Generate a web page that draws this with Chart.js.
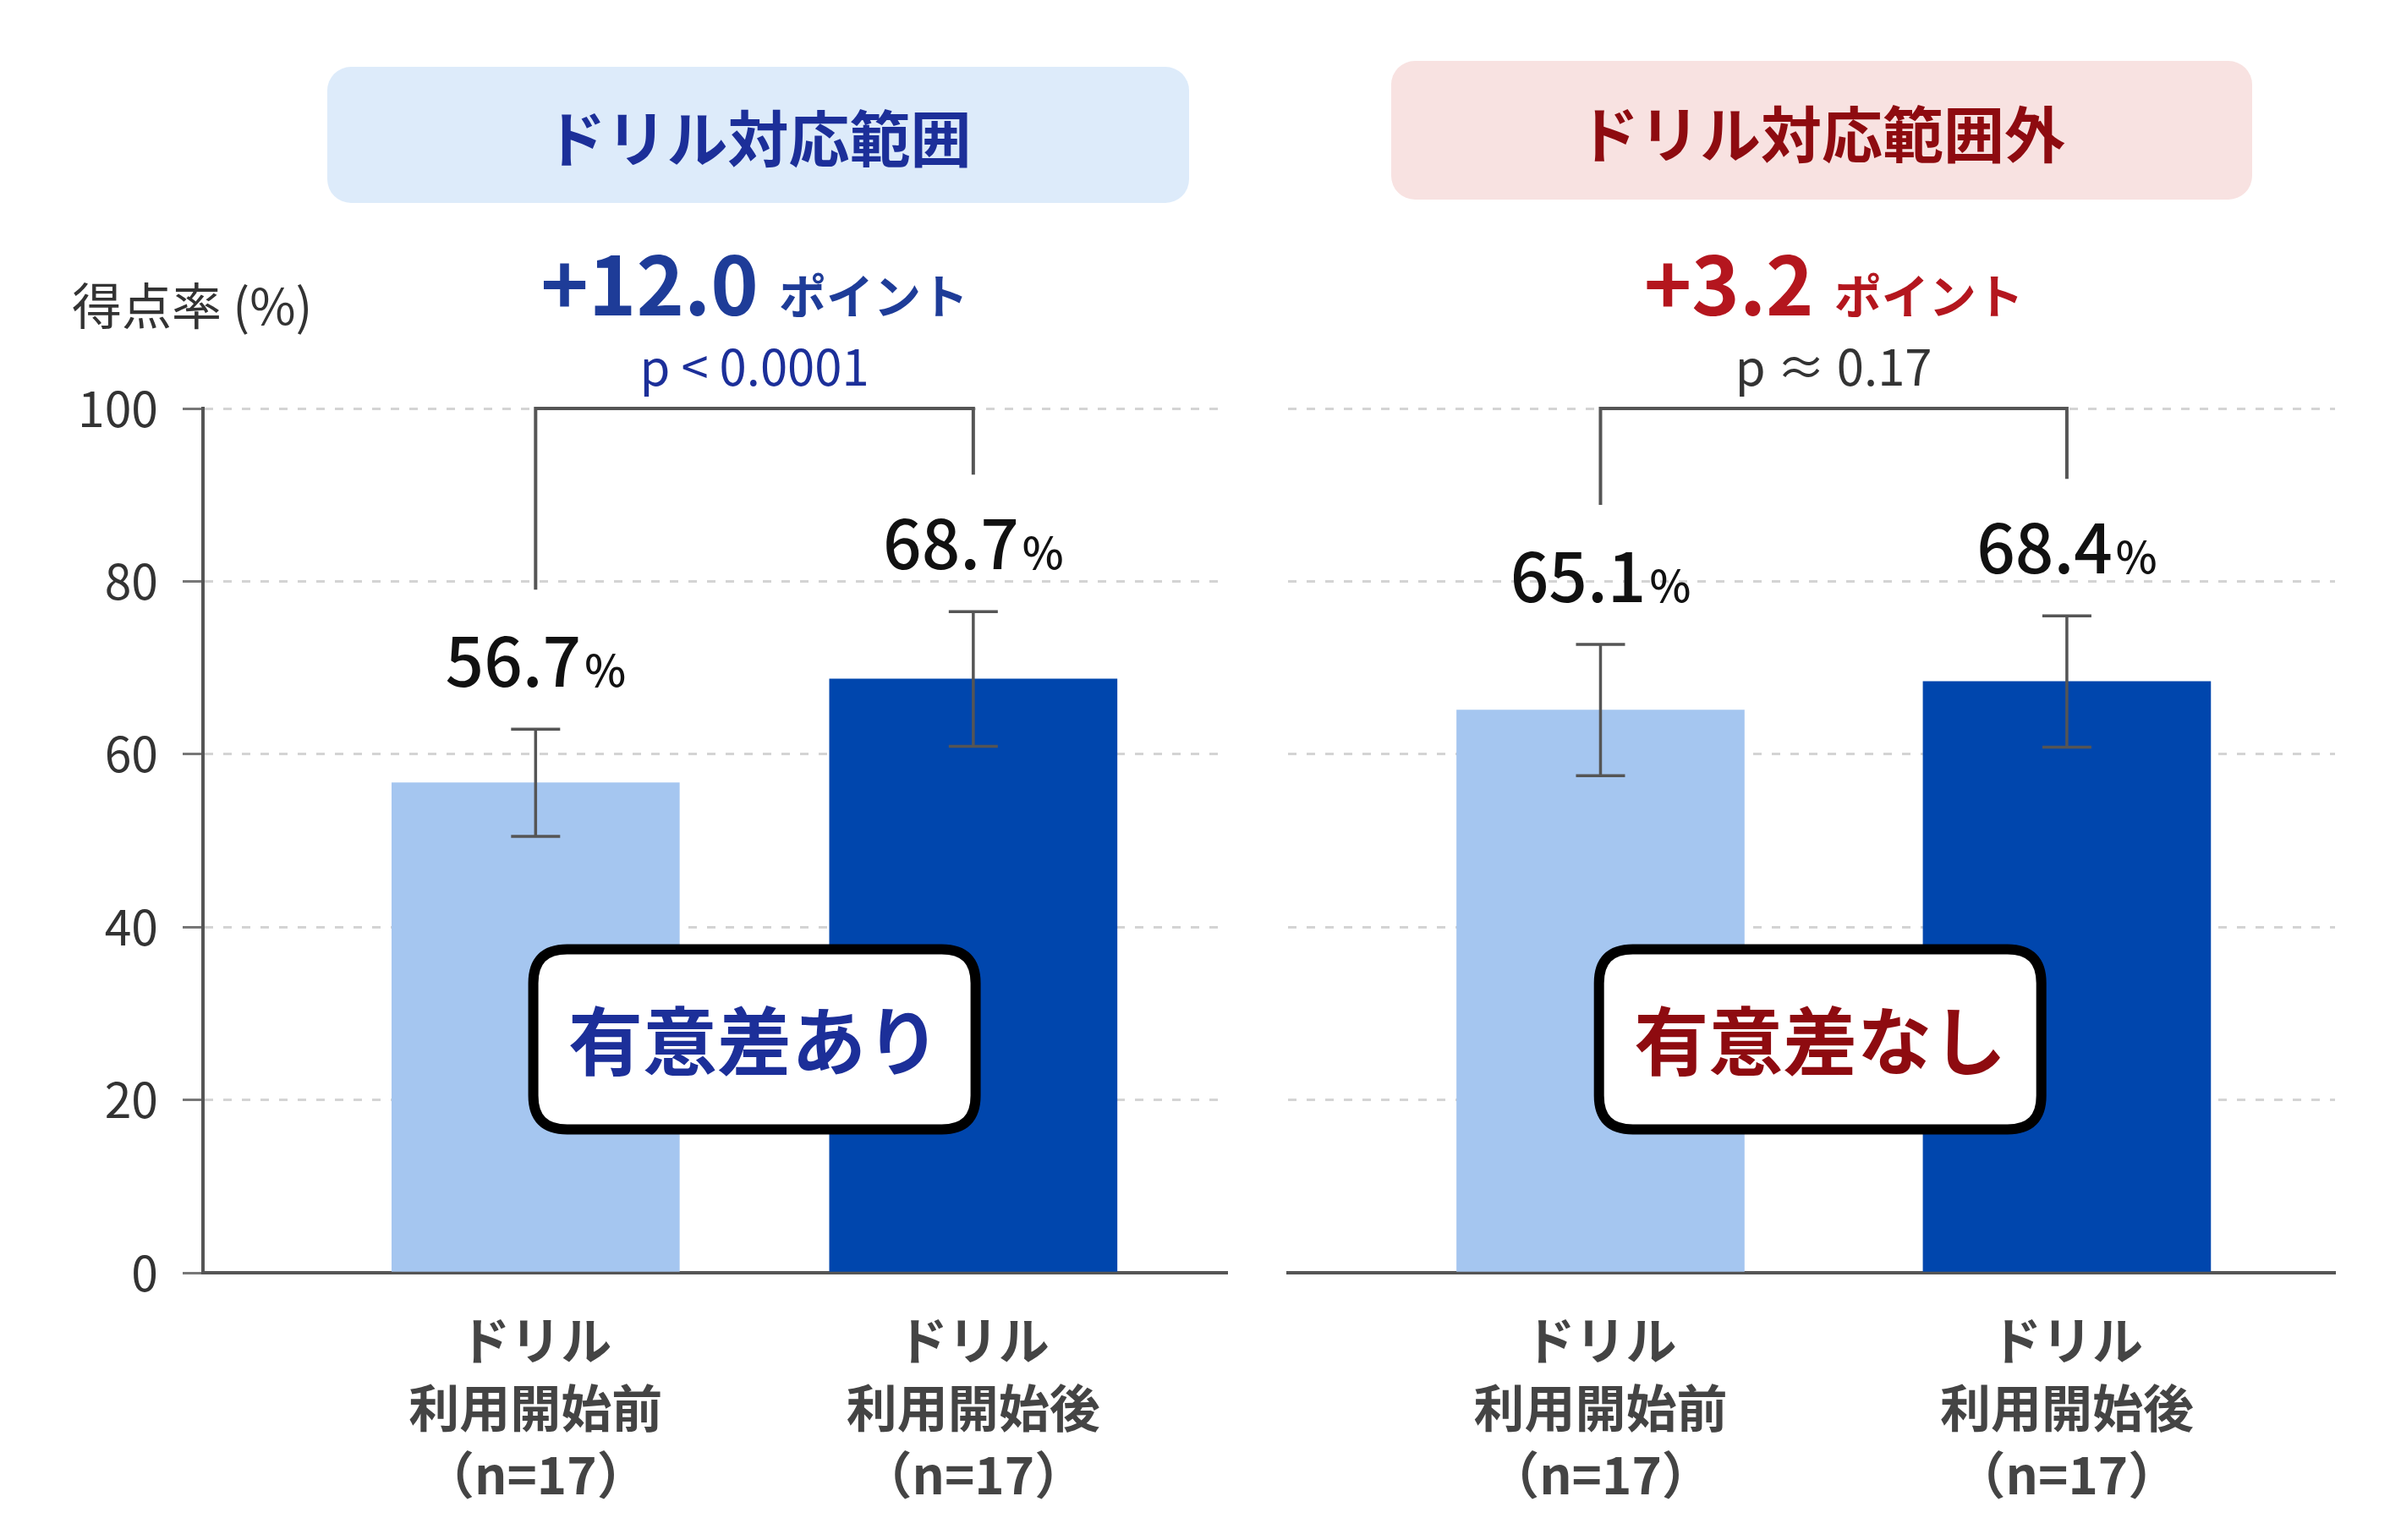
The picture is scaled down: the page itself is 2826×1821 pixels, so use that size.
<!DOCTYPE html>
<html lang="ja">
<head>
<meta charset="utf-8">
<script src="https://cdn.jsdelivr.net/npm/chart.js@4.4.1/dist/chart.umd.min.js"></script>
<style>
html,body{margin:0;padding:0;background:#fff;}
body{width:2826px;height:1821px;position:relative;overflow:hidden;font-family:"Noto Sans CJK JP","Noto Sans",sans-serif;}
.panel-title{position:absolute;display:flex;align-items:center;justify-content:center;border-radius:28px;font-size:72px;font-weight:700;}
#t1{left:387px;top:79px;width:1019px;height:161px;background:#DDEBFA;color:#1C2F99;}
#t2{left:1645px;top:72px;width:1018px;height:164px;background:#F8E2E1;color:#8E0B10;}
#ylabel{position:absolute;left:85px;top:316px;font-size:59px;color:#333;white-space:nowrap;}
canvas{position:absolute;top:0;}
#c1{left:0;}
#c2{left:1470px;}
</style>
</head>
<body>
<div class="panel-title" id="t1">ドリル対応範囲</div>
<div class="panel-title" id="t2">ドリル対応範囲外</div>
<div id="ylabel">得点率 (%)</div>
<canvas id="c1" width="1460" height="1821"></canvas>
<canvas id="c2" width="1356" height="1821"></canvas>
<script>
// categories (x labels, multi-line)
var categories = [["ドリル", "利用開始前", "（n=17）"], ["ドリル", "利用開始後", "（n=17）"]];
var yTicks = [0, 20, 40, 60, 80, 100];

// ドリル対応範囲
var inMeans = [56.7, 68.7];
var inErrors = [6.2, 7.8];
var inDiff = "+12.0";
var inP = "p < 0.0001";
var inSig = "有意差あり";

// ドリル対応範囲外
var outMeans = [65.1, 68.4];
var outErrors = [7.6, 7.6];
var outDiff = "+3.2";
var outP = "p ≈ 0.17";
var outSig = "有意差なし";

var lightBar = "#A5C6F0";
var darkBar = "#0046AD";
var FONT = '"Noto Sans CJK JP", "Noto Sans", sans-serif';

Chart.defaults.font.family = FONT;

function roundBox(ctx, x, y, w, h, r){
  ctx.beginPath();
  ctx.moveTo(x + r, y);
  ctx.lineTo(x + w - r, y);
  ctx.quadraticCurveTo(x + w, y, x + w, y + r);
  ctx.lineTo(x + w, y + h - r);
  ctx.quadraticCurveTo(x + w, y + h, x + w - r, y + h);
  ctx.lineTo(x + r, y + h);
  ctx.quadraticCurveTo(x, y + h, x, y + h - r);
  ctx.lineTo(x, y + r);
  ctx.quadraticCurveTo(x, y, x + r, y);
  ctx.closePath();
}

function annotations(o){
  return {
    id: "annot",
    afterDatasetsDraw: function(chart){
      var ctx = chart.ctx, y = chart.scales.y;
      var bars = chart.getDatasetMeta(0).data;
      var tops = [];
      ctx.save();
      // error bars + value labels
      bars.forEach(function(b, i){
        var hi = y.getPixelForValue(o.means[i] + o.errors[i]);
        var lo = y.getPixelForValue(o.means[i] - o.errors[i]);
        tops.push(hi);
        ctx.strokeStyle = "#555";
        ctx.lineWidth = 3.5;
        ctx.beginPath();
        ctx.moveTo(b.x, hi); ctx.lineTo(b.x, lo);
        ctx.moveTo(b.x - 29, hi); ctx.lineTo(b.x + 29, hi);
        ctx.moveTo(b.x - 29, lo); ctx.lineTo(b.x + 29, lo);
        ctx.stroke();

        var num = o.means[i].toFixed(1);
        ctx.font = "500 80px " + FONT;
        var w1 = ctx.measureText(num).width;
        ctx.font = "500 52px " + FONT;
        var w2 = ctx.measureText("%").width;
        var x0 = b.x - (w1 + w2 + 4) / 2;
        var base = hi - 50;
        ctx.fillStyle = "#111";
        ctx.textAlign = "left";
        ctx.textBaseline = "alphabetic";
        ctx.font = "500 80px " + FONT;
        ctx.fillText(num, x0, base);
        ctx.font = "500 52px " + FONT;
        ctx.fillText("%", x0 + w1 + 4, base);
      });

      // bracket
      var yb = y.getPixelForValue(100);
      ctx.strokeStyle = "#555";
      ctx.lineWidth = 4;
      ctx.beginPath();
      ctx.moveTo(bars[0].x, tops[0] - 165);
      ctx.lineTo(bars[0].x, yb);
      ctx.lineTo(bars[1].x, yb);
      ctx.lineTo(bars[1].x, tops[1] - 162);
      ctx.stroke();

      // difference text
      var midX = (bars[0].x + bars[1].x) / 2;
      ctx.font = "700 96px " + FONT;
      var d1 = ctx.measureText(o.diff).width;
      ctx.font = "700 56px " + FONT;
      var d2 = ctx.measureText("ポイント").width;
      var dx = midX - (d1 + 24 + d2) / 2;
      ctx.fillStyle = o.diffColor;
      ctx.textAlign = "left";
      ctx.textBaseline = "alphabetic";
      ctx.font = "700 96px " + FONT;
      ctx.fillText(o.diff, dx, yb - 110);
      ctx.font = "700 56px " + FONT;
      ctx.fillText("ポイント", dx + d1 + 24, yb - 112);

      ctx.font = "400 58px " + FONT;
      ctx.fillStyle = o.pColor;
      ctx.textAlign = "center";
      ctx.textBaseline = "middle";
      ctx.fillText(o.p, midX, yb - 49);

      // significance box
      var cx = midX + o.sigShift;
      var cy = y.getPixelForValue(27);
      var bw = 523, bh = 213;
      roundBox(ctx, cx - bw / 2, cy - bh / 2, bw, bh, 40);
      ctx.fillStyle = "#fff";
      ctx.fill();
      ctx.lineWidth = 12;
      ctx.strokeStyle = "#000";
      ctx.stroke();
      ctx.font = "700 88px " + FONT;
      ctx.fillStyle = o.sigColor;
      ctx.textAlign = "center";
      ctx.textBaseline = "middle";
      ctx.fillText(o.sig, cx, cy + 2);
      ctx.restore();
    }
  };
}

function makeChart(id, means, xMin, xMax, showAxis, yWidth, padRight, annot){
  var data = means.map(function(v, i){ return {x: i, y: v}; });
  return new Chart(document.getElementById(id), {
    type: "bar",
    data: {
      datasets: [{
        data: data,
        backgroundColor: [lightBar, darkBar],
        borderWidth: 0,
        barThickness: 340
      }]
    },
    options: {
      responsive: false,
      devicePixelRatio: 1,
      animation: false,
      layout: {padding: {top: 483, right: padRight, left: 0, bottom: 0}},
      plugins: {legend: {display: false}, tooltip: {enabled: false}},
      scales: {
        x: {
          type: "linear",
          offset: false,
          min: xMin,
          max: xMax,
          afterBuildTicks: function(scale){
            scale.ticks = categories.map(function(c, i){ return {value: i}; });
          },
          afterFit: function(scale){ scale.height = 316; },
          grid: {display: false, drawTicks: false, offset: false},
          border: {display: true, color: "#555", width: 4},
          ticks: {
            autoSkip: false,
            maxRotation: 0,
            padding: 41,
            color: "#444",
            font: {size: 60, weight: "bold", lineHeight: 1.32},
            callback: function(v){ return categories[v]; }
          }
        },
        y: {
          min: 0,
          max: 100,
          afterBuildTicks: function(scale){
            scale.ticks = yTicks.map(function(v){ return {value: v}; });
          },
          afterFit: function(scale){ scale.width = yWidth; },
          grid: {
            color: function(c){ return c.tick && c.tick.value === 0 ? "rgba(0,0,0,0)" : "#d4d4d4"; },
            lineWidth: 3,
            drawTicks: showAxis,
            tickLength: 24,
            tickColor: "#777",
            tickWidth: 3,
            tickBorderDash: []
          },
          border: {display: showAxis, color: "#555", width: 4, dash: [10, 12]},
          ticks: {
            display: showAxis,
            padding: 29,
            color: "#333",
            font: {size: 57}
          }
        }
      }
    },
    plugins: [annot]
  });
}

makeChart("c1", inMeans, -0.76, 1.58, true, 240, 9, annotations({
  means: inMeans, errors: inErrors, diff: inDiff, p: inP, sig: inSig, sigShift: 0,
  diffColor: "#1E3C98", pColor: "#1C2F99", sigColor: "#1C2F99"
}));
makeChart("c2", outMeans, -0.67, 1.575, false, 53, 65, annotations({
  means: outMeans, errors: outErrors, diff: outDiff, p: outP, sig: outSig, sigShift: -16,
  diffColor: "#B4161E", pColor: "#333", sigColor: "#8E0B10"
}));
</script>
</body>
</html>
